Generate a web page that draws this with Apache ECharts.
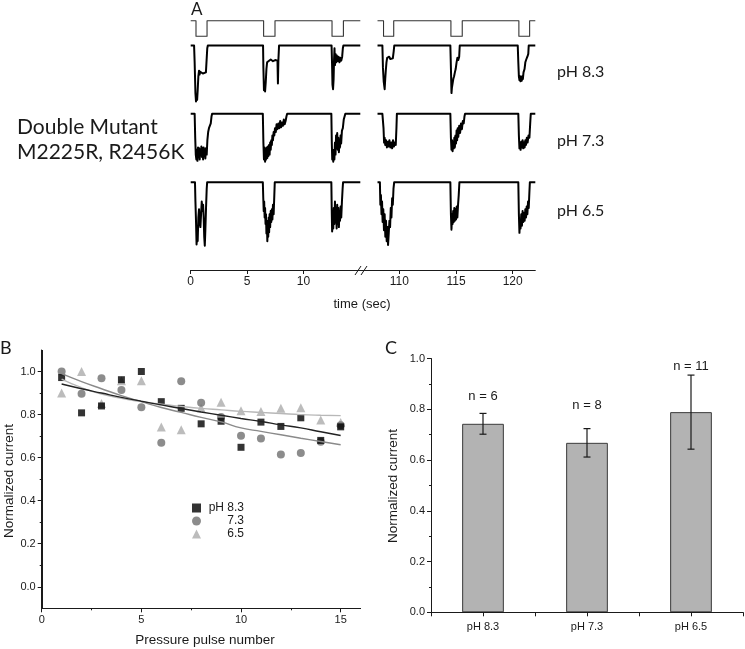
<!DOCTYPE html>
<html><head><meta charset="utf-8">
<script src="https://cdn.jsdelivr.net/npm/echarts@6/dist/echarts.min.js"></script>
<style>html,body{margin:0;padding:0;background:#fff}#c{width:745px;height:649px}</style>
</head><body><div id="c"></div>
<script>
// ---------- Panel A : traces (time in s, current normalised: 0 = baseline, -1 = deepest) ----------
const stepLeft = [[0,1],[0.47,1],[0.47,0],[1.45,0],[1.45,1],[6.47,1],[6.47,0],[7.48,0],[7.48,1],[12.54,1],[12.54,0],[13.55,0],[13.55,1],[15.05,1]];
const stepRight = [[108.07,1],[108.6,1],[108.6,0],[109.5,0],[109.5,1],[114.55,1],[114.55,0],[115.55,0],[115.55,1],[120.55,1],[120.55,0],[121.5,0],[121.5,1],[122,1]];

const ph83Left = [[0,0],[0.3,0],[0.35,-0.3],[0.42,-0.85],[0.47,-1.0],[0.52,-0.9],[0.57,-0.97],[0.62,-0.8],[0.68,-0.55],[0.74,-0.45],[0.78,-0.52],[0.85,-0.47],[0.92,-0.5],[1.0,-0.46],[1.08,-0.5],[1.16,-0.47],[1.25,-0.5],[1.35,-0.48],[1.42,-0.45],[1.47,-0.05],[1.52,0],
 [6.42,0],[6.45,-0.4],[6.5,-0.8],[6.55,-0.72],[6.6,-0.82],[6.66,-0.65],[6.72,-0.42],[6.78,-0.3],[6.85,-0.27],[6.95,-0.29],[7.1,-0.25],[7.3,-0.28],[7.5,-0.26],[7.7,-0.27],[7.74,-0.68],[7.78,-0.27],[7.81,-0.28],[7.84,0],
 [12.5,0],[12.54,-0.3],[12.58,-0.7],[12.63,-0.78],[12.68,-0.6],[12.72,-0.25],[12.76,-0.05],[12.8,-0.35],[12.85,-0.15],[12.9,-0.3],[12.97,-0.18],[13.05,-0.28],[13.12,-0.2],[13.2,-0.3],[13.28,-0.22],[13.36,-0.27],[13.44,-0.2],[13.5,-0.05],[13.55,0],[15.05,0]];
const ph83Right = [[108.07,0],[108.5,0],[108.55,-0.4],[108.62,-0.65],[108.7,-0.78],[108.75,-0.6],[108.8,-0.45],[108.86,-0.3],[108.92,-0.22],[109.0,-0.25],[109.1,-0.2],[109.2,-0.24],[109.3,-0.21],[109.42,-0.23],[109.5,-0.1],[109.55,0],
 [114.5,0],[114.55,-0.4],[114.6,-0.85],[114.64,-0.75],[114.7,-0.72],[114.76,-0.6],[114.83,-0.55],[114.9,-0.48],[114.97,-0.42],[115.05,-0.3],[115.12,-0.22],[115.2,-0.26],[115.28,-0.2],[115.33,0],
 [120.45,0],[120.5,-0.3],[120.55,-0.55],[120.6,-0.62],[120.65,-0.55],[120.7,-0.64],[120.75,-0.56],[120.8,-0.63],[120.85,-0.55],[120.9,-0.6],[120.96,-0.48],[121.05,-0.42],[121.12,-0.3],[121.2,-0.25],[121.3,-0.2],[121.38,-0.15],[121.42,0],[122,0]];

const ph73Left = [[0,0],[0.35,0],[0.4,-0.5],[0.45,-0.85],[0.5,-0.95],[0.55,-0.75],[0.6,-0.98],[0.65,-0.7],[0.7,-0.9],[0.75,-0.72],[0.8,-0.95],[0.85,-0.75],[0.9,-0.85],[0.95,-0.68],[1.0,-0.9],[1.05,-0.72],[1.1,-0.95],[1.15,-0.7],[1.2,-0.88],[1.25,-0.74],[1.3,-0.93],[1.35,-0.72],[1.42,-0.85],[1.48,-0.55],[1.55,-0.38],[1.62,-0.3],[1.7,-0.32],[1.78,-0.2],[1.85,-0.05],[1.9,0],
 [6.4,0],[6.45,-0.6],[6.5,-0.95],[6.55,-0.7],[6.6,-1.0],[6.65,-0.75],[6.7,-0.95],[6.75,-0.7],[6.8,-0.92],[6.85,-0.68],[6.9,-0.88],[6.95,-0.65],[7.0,-0.85],[7.05,-0.6],[7.1,-0.75],[7.15,-0.55],[7.2,-0.65],[7.25,-0.45],[7.3,-0.55],[7.36,-0.38],[7.42,-0.45],[7.48,-0.3],[7.55,-0.38],[7.62,-0.22],[7.7,-0.32],[7.78,-0.2],[7.86,-0.3],[7.94,-0.15],[8.02,-0.28],[8.1,-0.18],[8.18,-0.25],[8.26,-0.12],[8.34,-0.22],[8.42,-0.15],[8.5,-0.05],[8.56,0],
 [12.48,0],[12.52,-0.6],[12.56,-0.95],[12.6,-0.8],[12.65,-1.0],[12.7,-0.75],[12.75,-0.95],[12.8,-0.6],[12.85,-0.85],[12.9,-0.45],[12.95,-0.7],[13.0,-0.4],[13.05,-0.75],[13.1,-0.5],[13.15,-0.8],[13.2,-0.55],[13.25,-0.7],[13.3,-0.45],[13.35,-0.62],[13.42,-0.35],[13.5,-0.3],[13.58,-0.12],[13.66,-0.05],[13.72,0],[15.05,0]];
const ph73Right = [[108.07,0],[108.5,0],[108.6,-0.3],[108.65,-0.6],[108.7,-0.5],[108.75,-0.65],[108.82,-0.55],[108.9,-0.7],[108.98,-0.58],[109.05,-0.68],[109.12,-0.55],[109.2,-0.7],[109.28,-0.6],[109.36,-0.72],[109.44,-0.55],[109.52,-0.68],[109.6,-0.6],[109.68,-0.65],[109.74,-0.3],[109.78,0],
 [114.5,0],[114.55,-0.5],[114.6,-0.75],[114.65,-0.55],[114.7,-0.78],[114.75,-0.6],[114.8,-0.72],[114.85,-0.5],[114.9,-0.7],[114.95,-0.45],[115.0,-0.62],[115.05,-0.35],[115.1,-0.55],[115.15,-0.3],[115.2,-0.48],[115.28,-0.25],[115.36,-0.4],[115.44,-0.2],[115.52,-0.32],[115.6,-0.15],[115.68,-0.2],[115.75,-0.05],[115.8,0],
 [120.5,0],[120.55,-0.45],[120.6,-0.72],[120.65,-0.6],[120.7,-0.75],[120.76,-0.58],[120.82,-0.7],[120.88,-0.55],[120.94,-0.72],[121.0,-0.6],[121.06,-0.7],[121.12,-0.55],[121.18,-0.65],[121.25,-0.5],[121.32,-0.6],[121.4,-0.45],[121.48,-0.5],[121.55,-0.2],[121.6,0],[122,0]];

const ph65Left = [[0,0],[0.38,0],[0.42,-0.3],[0.47,-0.6],[0.52,-0.97],[0.57,-0.8],[0.62,-0.92],[0.68,-0.55],[0.74,-0.42],[0.8,-0.62],[0.86,-0.7],[0.92,-0.5],[0.98,-0.3],[1.04,-0.45],[1.1,-0.35],[1.15,-0.55],[1.2,-0.85],[1.25,-0.99],[1.3,-0.75],[1.36,-0.4],[1.42,-0.1],[1.46,0],
 [6.4,0],[6.44,-0.25],[6.48,-0.45],[6.52,-0.3],[6.56,-0.55],[6.6,-0.4],[6.64,-0.65],[6.68,-0.5],[6.72,-0.8],[6.76,-0.6],[6.8,-0.92],[6.84,-0.65],[6.88,-0.85],[6.92,-0.55],[6.96,-0.78],[7.0,-0.5],[7.05,-0.7],[7.1,-0.45],[7.15,-0.62],[7.2,-0.42],[7.25,-0.58],[7.3,-0.35],[7.36,-0.5],[7.42,-0.2],[7.46,0],
 [12.48,0],[12.52,-0.5],[12.55,-0.77],[12.6,-0.55],[12.65,-0.72],[12.7,-0.4],[12.75,-0.65],[12.8,-0.3],[12.85,-0.6],[12.9,-0.45],[12.95,-0.72],[13.0,-0.35],[13.05,-0.65],[13.1,-0.4],[13.15,-0.7],[13.2,-0.45],[13.25,-0.6],[13.3,-0.38],[13.36,-0.55],[13.42,-0.3],[13.48,-0.1],[13.52,0],[15.05,0]];
const ph65Right = [[108.07,0],[108.28,0],[108.32,-0.35],[108.37,-0.2],[108.42,-0.5],[108.47,-0.3],[108.52,-0.62],[108.58,-0.42],[108.64,-0.75],[108.7,-0.5],[108.76,-0.85],[108.82,-0.6],[108.88,-0.92],[108.94,-0.7],[109.0,-0.98],[109.06,-0.8],[109.12,-0.6],[109.18,-0.7],[109.24,-0.4],[109.3,-0.55],[109.36,-0.25],[109.42,-0.35],[109.48,-0.1],[109.54,0],
 [114.5,0],[114.55,-0.5],[114.6,-0.74],[114.65,-0.5],[114.7,-0.65],[114.75,-0.45],[114.8,-0.62],[114.85,-0.4],[114.9,-0.6],[114.95,-0.42],[115.0,-0.58],[115.06,-0.38],[115.12,-0.55],[115.18,-0.35],[115.24,-0.2],[115.3,0],
 [120.5,0],[120.55,-0.5],[120.6,-0.79],[120.65,-0.6],[120.7,-0.72],[120.76,-0.5],[120.82,-0.68],[120.88,-0.45],[120.94,-0.62],[121.0,-0.48],[121.06,-0.6],[121.12,-0.42],[121.18,-0.55],[121.24,-0.38],[121.3,-0.5],[121.36,-0.3],[121.42,-0.4],[121.48,-0.15],[121.52,0],[122,0]];

const timeTicksLeft = [0, 5, 10];
const timeTicksRight = [110, 115, 120];
const traceLabels = ['pH 8.3', 'pH 7.3', 'pH 6.5'];

// ---------- Panel B ----------
const pulses = [1,2,3,4,5,6,7,8,9,10,11,12,13,14,15];
const b83 = [0.972,0.808,0.84,0.962,1.0,0.86,0.829,0.757,0.769,0.648,0.765,0.745,0.785,0.68,0.743];
const b73 = [1.0,0.897,0.969,0.914,0.834,0.669,0.955,0.855,0.789,0.702,0.689,0.614,0.622,0.674,0.75];
const b65 = [0.9,1.0,0.852,0.957,0.957,0.742,0.729,0.831,0.857,0.818,0.814,0.829,0.832,0.775,0.763];
const fit83 = [0.942,0.92,0.90,0.88,0.862,0.845,0.828,0.812,0.797,0.782,0.768,0.752,0.738,0.72,0.703];
const fit73 = [0.99,0.953,0.92,0.888,0.86,0.833,0.81,0.787,0.766,0.738,0.722,0.706,0.69,0.675,0.66];
const fit65 = [0.965,0.925,0.895,0.875,0.86,0.848,0.838,0.829,0.822,0.815,0.81,0.805,0.8,0.797,0.795];
const bLegend = ['pH 8.3', '7.3', '6.5'];
const bXLabels = [0, 5, 10, 15];
const bXMinor = [2.5, 7.5, 12.5];
const bYLabels = [0, 0.2, 0.4, 0.6, 0.8, 1.0];
const bYMinor = [0.1, 0.3, 0.5, 0.7, 0.9];

// ---------- Panel C ----------
const cCats = ['pH 8.3', 'pH 7.3', 'pH 6.5'];
const cMeans = [0.743, 0.668, 0.789];
const cErr = [0.041, 0.056, 0.146];
const cN = ['n = 6', 'n = 8', 'n = 11'];

// ================= build option =================
const ARIAL = '"Liberation Sans", Arial, sans-serif';
const CAL = 'Lato, "Open Sans", sans-serif';
const INK = '#1a1a1a';

const grid = [], xAxis = [], yAxis = [], series = [];
function addGrid(g){ grid.push(g); return grid.length - 1; }

const segs = [
  {left:190.7, width:171.3, min:0, max:15.2},
  {left:362, width:173.3, min:106.7, max:122}
];
const rows = [
  {top:20.7, h:15.6, min:0, max:1, data:[stepLeft, stepRight], lw:1.1, color:'#333'},
  {top:45.5, h:56, min:-1, max:0, data:[ph83Left, ph83Right], lw:2, color:'#000'},
  {top:113.8, h:48, min:-1, max:0, data:[ph73Left, ph73Right], lw:2, color:'#000'},
  {top:182.3, h:64, min:-1, max:0, data:[ph65Left, ph65Right], lw:2, color:'#000'}
];
rows.forEach(r => {
  segs.forEach((s, si) => {
    const gi = addGrid({left:s.left, width:s.width, top:r.top, height:r.h});
    xAxis.push({gridIndex:gi, type:'value', min:s.min, max:s.max, show:false});
    yAxis.push({gridIndex:gi, type:'value', min:r.min, max:r.max, show:false});
    series.push({type:'line', xAxisIndex:xAxis.length-1, yAxisIndex:yAxis.length-1,
      data:r.data[si], showSymbol:false, symbol:'none', clip:false, silent:true,
      lineStyle:{color:r.color, width:r.lw, join:'round'}, animation:false});
  });
});
// time axis
[timeTicksLeft, timeTicksRight].forEach((ticks, si) => {
  const s = segs[si];
  const gi = addGrid({left:s.left, width:s.width, top:269, height:1});
  xAxis.push({gridIndex:gi, type:'value', min:s.min, max:s.max, position:'bottom',
    splitLine:{show:false},
    axisLine:{show:true, onZero:false, lineStyle:{color:INK, width:1}},
    axisTick:{show:true, customValues:ticks, length:4, lineStyle:{color:INK}},
    axisLabel:{show:true, customValues:ticks, color:INK, fontFamily:ARIAL, fontSize:12, margin:6}});
  yAxis.push({gridIndex:gi, type:'value', show:false, min:0, max:1});
});

// ---- Panel B ----
const B_X = [0, 16], B_Y = [-0.1, 1.1];
const gB = addGrid({left:41.7, width:318.9, top:350, height:258.3});
const bx = xAxis.length;
xAxis.push({gridIndex:gB, type:'value', position:'bottom', min:B_X[0], max:B_X[1], splitLine:{show:false}, z:10,
  axisLine:{show:true, onZero:false, lineStyle:{color:INK}},
  axisTick:{show:true, customValues:bXLabels, length:4, lineStyle:{color:INK}},
  axisLabel:{customValues:bXLabels, color:INK, fontFamily:ARIAL, fontSize:11, margin:6}});
xAxis.push({gridIndex:gB, type:'value', position:'bottom', min:B_X[0], max:B_X[1], splitLine:{show:false}, z:10,
  axisLine:{show:false, onZero:false}, axisTick:{show:true, customValues:bXMinor, length:2, lineStyle:{color:INK}},
  axisLabel:{show:false}});
const by = yAxis.length;
yAxis.push({gridIndex:gB, type:'value', position:'left', min:B_Y[0], max:B_Y[1], splitLine:{show:false}, z:10,
  axisLine:{show:true, onZero:false, lineStyle:{color:INK}},
  axisTick:{show:true, customValues:bYLabels, length:4, lineStyle:{color:INK}},
  axisLabel:{customValues:bYLabels, formatter:v => (+v).toFixed(1), color:INK, fontFamily:ARIAL, fontSize:11, margin:6}});
yAxis.push({gridIndex:gB, type:'value', position:'left', min:B_Y[0], max:B_Y[1], splitLine:{show:false}, z:10,
  axisLine:{show:false, onZero:false}, axisTick:{show:true, customValues:bYMinor, length:2, lineStyle:{color:INK}},
  axisLabel:{show:false}});
const pts = arr => pulses.map((x, i) => [x, arr[i]]);
// axis frame lines through the library's scale (drawn on top so they always show)
series.push({type:'custom', xAxisIndex:bx, yAxisIndex:by, data:[[B_X[0], B_Y[0]]], silent:true, animation:false, z:20,
  renderItem:(params, api) => {
    const o = api.coord([B_X[0], B_Y[0]]), t = api.coord([B_X[0], B_Y[1]]), r = api.coord([B_X[1], B_Y[0]]);
    const st = {stroke:INK, lineWidth:1};
    const px = Math.round(o[0]) + 0.5, py = Math.round(o[1]) + 0.5;
    return {type:'group', children:[
      {type:'line', shape:{x1:px, y1:py, x2:px, y2:t[1]}, style:st},
      {type:'line', shape:{x1:px, y1:py, x2:r[0], y2:py}, style:st}]};
  }});
const fits = [[fit73,'#8a8a8a'],[fit65,'#b8b8b8'],[fit83,'#222']];
fits.forEach(f => series.push({type:'line', xAxisIndex:bx, yAxisIndex:by, data:pts(f[0]), smooth:true,
  symbol:'none', lineStyle:{color:f[1], width:1.4}, animation:false, silent:true}));
const scat = [[bLegend[2], b65, 'triangle', 9, '#ababab'],[bLegend[1], b73, 'circle', 8, '#6f6f6f'],[bLegend[0], b83, 'rect', 7, '#000']];
scat.forEach(s => series.push({type:'scatter', name:s[0], xAxisIndex:bx, yAxisIndex:by, data:pts(s[1]),
  symbol:s[2], symbolSize:s[3], itemStyle:{color:s[4]}, animation:false}));

// ---- Panel C ----
const C_Y = [0, 1];
const gC = addGrid({left:431, right:2, top:358.6, height:253.7});
const cx = xAxis.length;
xAxis.push({gridIndex:gC, type:'category', position:'bottom', data:cCats, boundaryGap:true, z:10,
  axisLine:{show:true, onZero:false, lineStyle:{color:INK}},
  axisTick:{show:true, alignWithLabel:false, length:4, lineStyle:{color:INK}},
  axisLabel:{color:INK, fontFamily:ARIAL, fontSize:11, margin:9}});
xAxis.push({gridIndex:gC, type:'category', position:'bottom', data:cCats, boundaryGap:true, z:10,
  axisLine:{show:false, onZero:false}, axisTick:{show:true, alignWithLabel:true, length:4, lineStyle:{color:INK}},
  axisLabel:{show:false}});
const cy = yAxis.length;
yAxis.push({gridIndex:gC, type:'value', position:'left', min:C_Y[0], max:C_Y[1], interval:0.2, splitLine:{show:false}, z:10,
  axisLine:{show:true, onZero:false, lineStyle:{color:INK}},
  axisTick:{show:true, length:4, lineStyle:{color:INK}},
  minorTick:{show:true, splitNumber:2, length:2, lineStyle:{color:INK}},
  axisLabel:{formatter:v => (+v).toFixed(1), color:INK, fontFamily:ARIAL, fontSize:11, margin:6}});
series.push({type:'bar', xAxisIndex:cx, yAxisIndex:cy, data:cMeans, barWidth:41.7,
  itemStyle:{color:'#b3b3b3', borderColor:'#3a3a3a', borderWidth:1}, animation:false, silent:true});
series.push({type:'custom', xAxisIndex:cx, yAxisIndex:cy, data:[[0, C_Y[0]]], silent:true, animation:false, z:20,
  renderItem:(params, api) => {
    const half = api.size([1, 0])[0] / 2;
    const b = api.coord([0, C_Y[0]]), t = api.coord([0, C_Y[1]]);
    const px = Math.round(b[0] - half) + 0.5;
    return {type:'line', shape:{x1:px, y1:b[1], x2:px, y2:t[1]}, style:{stroke:INK, lineWidth:1}};
  }});
const nGap = [17, 23, 9];
series.push({type:'custom', xAxisIndex:cx, yAxisIndex:cy, animation:false, silent:true, z:5,
  data:cMeans.map((m, i) => [i, m, cErr[i]]),
  renderItem:(params, api) => {
    const i = api.value(0), m = api.value(1), e = api.value(2);
    const top = api.coord([i, m + e]), bot = api.coord([i, m - e]);
    const cap = 3.5;
    const st = {stroke:'#1a1a1a', lineWidth:1.2};
    return {type:'group', children:[
      {type:'line', shape:{x1:top[0], y1:top[1], x2:bot[0], y2:bot[1]}, style:st},
      {type:'line', shape:{x1:top[0]-cap, y1:top[1], x2:top[0]+cap, y2:top[1]}, style:st},
      {type:'line', shape:{x1:bot[0]-cap, y1:bot[1], x2:bot[0]+cap, y2:bot[1]}, style:st},
      {type:'text', x:top[0], y:top[1] - nGap[params.dataIndex], style:{text:cN[params.dataIndex],
        fill:INK, font:'13px ' + ARIAL, textAlign:'center', textVerticalAlign:'middle'}}
    ]};
  }});

// ---- graphics (text labels) ----
const graphic = [
  {type:'text', left:191, top:1, style:{text:'A', font:'17px ' + CAL, fill:INK}},
  {type:'text', left:0, top:339, style:{text:'B', font:'18px ' + CAL, fill:INK}},
  {type:'text', left:385, top:339, style:{text:'C', font:'18px ' + CAL, fill:INK}},
  {type:'text', x:17, y:127, style:{text:'Double Mutant', font:'21px ' + CAL, fill:INK, textVerticalAlign:'middle'}},
  {type:'text', x:17, y:152, style:{text:'M2225R, R2456K', font:'21px ' + CAL, fill:INK, textVerticalAlign:'middle'}},
  {type:'text', x:362, y:304, style:{text:'time (sec)', font:'13px ' + ARIAL, fill:INK, textAlign:'center', textVerticalAlign:'middle'}},
  {type:'text', x:205, y:640, style:{text:'Pressure pulse number', font:'13.5px ' + ARIAL, fill:INK, textAlign:'center', textVerticalAlign:'middle'}},
  {type:'text', x:9, y:481, rotation:Math.PI/2, style:{text:'Normalized current', font:'13.5px ' + ARIAL, fill:INK, textAlign:'center', textVerticalAlign:'middle'}},
  {type:'text', x:393, y:486, rotation:Math.PI/2, style:{text:'Normalized current', font:'13.5px ' + ARIAL, fill:INK, textAlign:'center', textVerticalAlign:'middle'}},
  {type:'rect', shape:{x:357, y:266, width:10, height:8}, style:{fill:'#fff'}},
  {type:'line', shape:{x1:355, y1:275, x2:361, y2:266}, style:{stroke:INK, lineWidth:1}},
  {type:'line', shape:{x1:361, y1:275, x2:367, y2:266}, style:{stroke:INK, lineWidth:1}}
];
[72, 141, 211].forEach((y, i) => graphic.push({type:'text', x:557, y:y,
  style:{text:traceLabels[i], font:'16px ' + CAL, fill:INK, textVerticalAlign:'middle'}}));

const option = {
  backgroundColor:'#fff',
  animation:false,
  grid, xAxis, yAxis, series, graphic,
  legend:{data:bLegend, orient:'vertical', left:187, top:497, itemWidth:9, itemHeight:9, itemGap:1,
    textStyle:{color:INK, fontFamily:ARIAL, fontSize:12,
      rich:{r:{width:38, align:'right', fontFamily:ARIAL, fontSize:12, color:INK}}},
    formatter:n => '{r|' + n + '}', selectedMode:false}
};
const chart = echarts.init(document.getElementById('c'));
chart.setOption(option);
</script></body></html>
